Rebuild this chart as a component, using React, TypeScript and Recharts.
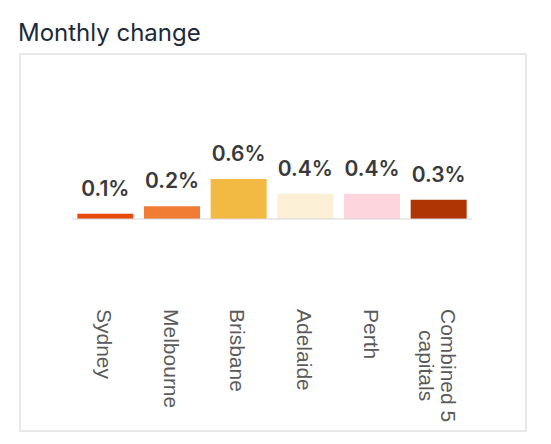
import React from 'react';
import { BarChart, Bar, XAxis, YAxis, Cell, LabelList } from 'recharts';

// Monthly change in dwelling values by capital city (%)
const cities = ['Sydney', 'Melbourne', 'Brisbane', 'Adelaide', 'Perth', 'Combined 5 capitals'];
const changes = [0.08, 0.19, 0.6, 0.38, 0.38, 0.29];
const barColors = ['#e64b0c', '#f07b32', '#f2ba42', '#fbefd6', '#fdd6dd', '#b03504'];

const data = cities.map((city, i) => ({ city, change: changes[i] }));

const TICK_FONT = "21px 'Liberation Sans', Arial, sans-serif";

let ctx: CanvasRenderingContext2D | null = null;
const measure = (s: string) => {
  if (!ctx) ctx = document.createElement('canvas').getContext('2d');
  if (!ctx) return s.length * 10;
  ctx.font = TICK_FONT;
  return ctx.measureText(s).width;
};

// greedy word wrap, like the original axis does for long names
const wrap = (label: string, maxWidth: number) => {
  const lines: string[] = [];
  let cur = '';
  label.split(' ').forEach(w => {
    const next = cur ? cur + ' ' + w : w;
    if (cur && measure(next) > maxWidth) {
      lines.push(cur);
      cur = w;
    } else {
      cur = next;
    }
  });
  if (cur) lines.push(cur);
  return lines;
};

const CityTick = (props: any) => {
  const { x, y, payload } = props;
  const lines = wrap(payload.value, 130);
  const first = measure(lines[0]);
  return (
    <g transform={`translate(${x},${y}) rotate(90)`}>
      {lines.map((line, i) => (
        <text
          key={line}
          x={i === 0 ? 0 : first / 2}
          y={8.5 - 11 * (lines.length - 1) + 22 * i}
          textAnchor={i === 0 ? 'start' : 'middle'}
          fill="#5a5a5a"
          style={{ font: TICK_FONT }}
        >
          {line}
        </text>
      ))}
    </g>
  );
};

export default function App() {
  return (
    <div style={{ position: 'absolute', left: 0, top: 0, width: 551, height: 444, background: '#fff' }}>
      <div
        style={{
          position: 'absolute',
          left: 18,
          top: 21,
          fontFamily: 'Inter, sans-serif',
          fontSize: 24,
          lineHeight: '24px',
          color: '#1d2a38',
          whiteSpace: 'nowrap',
        }}
      >
        Monthly change
      </div>
      <div
        style={{
          position: 'absolute',
          left: 19,
          top: 53,
          width: 508,
          height: 379,
          border: '2px solid #e8e8e8',
          boxSizing: 'border-box',
        }}
      />
      <div style={{ position: 'absolute', left: 0, top: 0 }}>
        <BarChart
          width={551}
          height={444}
          data={data}
          margin={{ top: 179, right: 79, bottom: 0, left: 72 }}
          barCategoryGap="8%"
        >
          <XAxis
            dataKey="city"
            height={225}
            interval={0}
            tickLine={false}
            tickSize={0}
            tickMargin={90}
            axisLine={{ stroke: '#d6d6d6' }}
            tick={<CityTick />}
          />
          <YAxis hide domain={[0, 0.6]} />
          <Bar dataKey="change" isAnimationActive={false}>
            {data.map((d, i) => (
              <Cell key={d.city} fill={barColors[i]} />
            ))}
            <LabelList
              dataKey="change"
              position="top"
              offset={18}
              formatter={(v: any) => `${Number(v).toFixed(1)}%`}
              fill="#3a3a3a"
              fontSize={21}
              fontWeight={600}
              fontFamily="Inter, sans-serif"
            />
          </Bar>
        </BarChart>
      </div>
    </div>
  );
}
